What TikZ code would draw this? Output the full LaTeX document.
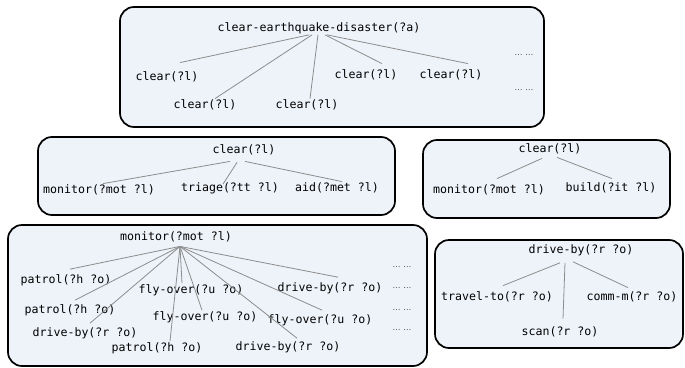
\documentclass[tikz,border=0pt]{standalone}
\usepackage{fontspec}
\setmonofont{DejaVu Sans Mono}
\newfontfamily\dotsfont{DejaVu Sans}
\usetikzlibrary{calc}

\definecolor{panelfill}{HTML}{EEF3FA}
\definecolor{branchgray}{HTML}{8C8C8C}
\tikzset{
  panel/.style={draw=black, line width=1.7pt, fill=panelfill, rounded corners=14pt},
  task/.style={inner sep=1pt, font=\ttfamily\fontsize{11.6}{12}\selectfont},
  branch/.style={draw=branchgray, line width=0.8pt},
  more/.style={inner sep=0pt, text=black!70, font=\dotsfont\fontsize{8}{8}\selectfont}
}

\begin{document}
\begin{tikzpicture}[x=1pt,y=-1pt]
	\useasboundingbox (0,0) rectangle (685,367);
	% panels
	\draw[panel] (120,7) rectangle (544,127);
	\draw[panel] (38,137) rectangle (395,215);
	\draw[panel] (423,140) rectangle (670,218);
	\draw[panel] (8,225) rectangle (427,366);
	\draw[panel] (435,240) rectangle (683,348);

	% top goal
	\node[task] (ced) at (319,28) {clear-earthquake-disaster(?a)};
	\node[task] (cl1) at (167,77) {clear(?l)};
	\node[task] (cl2) at (205,105) {clear(?l)};
	\node[task] (cl3) at (307,105) {clear(?l)};
	\node[task] (cl4) at (366,75) {clear(?l)};
	\node[task] (cl5) at (451,75) {clear(?l)};
	\foreach \y in {55,90}{\node[more] (cedmore\y) at (524,\y) {… …};}
	\draw[branch] ([xshift=-10]ced.south) -- ([shift={(13,-8)}]cl1.north);
	\draw[branch] ([xshift=-7]ced.south) -- ([xshift=10]cl2.north);
	\draw[branch] ([xshift=-1]ced.south) -- ([xshift=3]cl3.north);
	\draw[branch] ([xshift=6]ced.south) -- ([shift={(16,-5)}]cl4.north);
	\draw[branch] ([xshift=8]ced.south) -- ([shift={(17,-5)}]cl5.north);

	% clear, method 1
	\node[task] (cl6) at (244,150) {clear(?l)};
	\node[task] (mon1) at (99,190) {monitor(?mot ?l)};
	\node[task] (tri) at (230,188) {triage(?tt ?l)};
	\node[task] (aid) at (337,188) {aid(?met ?l)};
	\draw[branch] ([shift={(-14,5)}]cl6.south) -- ([xshift=4]mon1.north);
	\draw[branch] ([shift={(-7,6)}]cl6.south) -- ([shift={(-7,3)}]tri.north);
	\draw[branch] ([shift={(1,5)}]cl6.south) -- ([xshift=5]aid.north);

	% clear, method 2
	\node[task] (cl7) at (550,149) {clear(?l)};
	\node[task] (mon2) at (489,190) {monitor(?mot ?l)};
	\node[task] (bld) at (611,188) {build(?it ?l)};
	\draw[branch] ([shift={(-8,3)}]cl7.south) -- ([shift={(8,-5)}]mon2.north);
	\draw[branch] ([shift={(7,2)}]cl7.south) -- ([shift={(1,-3)}]bld.north);

	% monitor
	\node[task] (mon3) at (176,237) {monitor(?mot ?l)};
	\coordinate (hub) at ([shift={(4,3)}]mon3.south);
	\node[task] (pat1) at (66,280) {patrol(?h ?o)};
	\node[task] (pat2) at (70,310) {patrol(?h ?o)};
	\node[task] (drv1) at (85,333) {drive-by(?r ?o)};
	\node[task] (pat3) at (157,348) {patrol(?h ?o)};
	\node[task] (fly1) at (191,290) {fly-over(?u ?o)};
	\node[task] (fly2) at (205,317) {fly-over(?u ?o)};
	\node[task] (drv2) at (288,347) {drive-by(?r ?o)};
	\node[task] (fly3) at (320,320) {fly-over(?u ?o)};
	\node[task] (drv3) at (330,288) {drive-by(?r ?o)};
	\foreach \y in {267,288,310,330}{\node[more] (monmore\y) at (402,\y) {… …};}
	\draw[branch] (hub) -- ([shift={(4,-4)}]pat1.north);
	\draw[branch] (hub) -- ([shift={(5,-3)}]pat2.north);
	\draw[branch] (hub) -- ([shift={(5,-3)}]drv1.north);
	\draw[branch] (hub) -- ([xshift=13]pat3.north);
	\draw[branch] (hub) -- ([xshift=-9]fly1.north);
	\draw[branch] (hub) -- ([xshift=-3]fly2.north);
	\draw[branch] (hub) -- ([shift={(9,-2)}]drv2.north);
	\draw[branch] (hub) -- ([shift={(2,-3)}]fly3.north);
	\draw[branch] (hub) -- ([shift={(8,-4)}]drv3.north);

	% drive-by
	\node[task] (drv4) at (581,250) {drive-by(?r ?o)};
	\node[task] (trv) at (497,297) {travel-to(?r ?o)};
	\node[task] (cmm) at (632,297) {comm-m(?r ?o)};
	\node[task] (scn) at (560,332) {scan(?r ?o)};
	\draw[branch] ([shift={(-21,6)}]drv4.south) -- ([shift={(6,-5)}]trv.north);
	\draw[branch] ([shift={(-16,6)}]drv4.south) -- ([shift={(3,-7)}]scn.north);
	\draw[branch] ([shift={(-8,5)}]drv4.south) -- ([shift={(-4,-3)}]cmm.north);
\end{tikzpicture}
\end{document}
